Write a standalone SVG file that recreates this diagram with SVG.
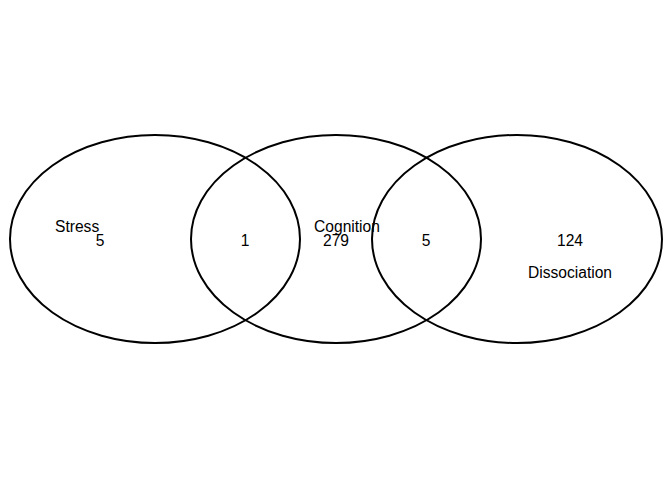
<svg xmlns="http://www.w3.org/2000/svg" width="672" height="480" viewBox="0 0 672 480">
<style>
.set{fill:none;stroke:#000;stroke-width:2}
text{font-family:"Liberation Sans",Arial,sans-serif;font-size:15.6px;fill:#000}
.m{text-anchor:middle}
</style>
<rect width="672" height="480" fill="#fff"/>
<g id="stress">
<ellipse class="set" cx="155" cy="239" rx="145" ry="104"/>
<text x="55" y="232">Stress</text>
<text class="m" x="100" y="246">5</text>
</g>
<g id="cognition">
<ellipse class="set" cx="336" cy="239" rx="145" ry="104"/>
<text class="m" x="347" y="232">Cognition</text>
<text class="m" x="336" y="246">279</text>
</g>
<g id="dissociation">
<ellipse class="set" cx="517" cy="239" rx="145" ry="104"/>
<text class="m" x="570" y="246">124</text>
<text class="m" x="570" y="278">Dissociation</text>
</g>
<g id="overlaps">
<text class="m" x="245" y="246">1</text>
<text class="m" x="426" y="246">5</text>
</g>
</svg>
